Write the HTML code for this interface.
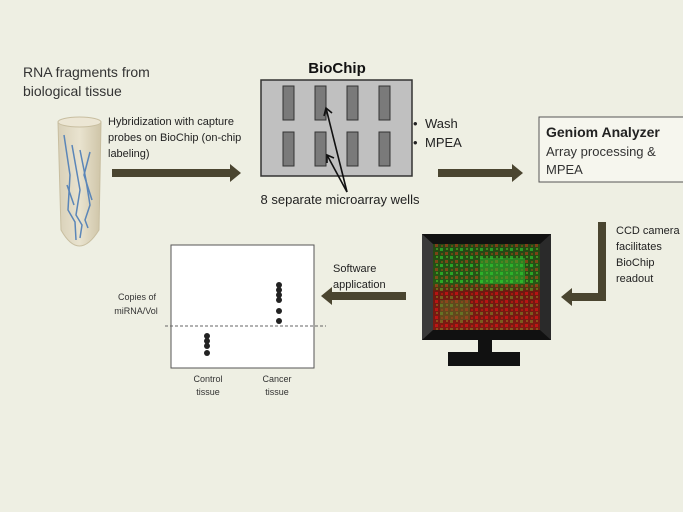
<!DOCTYPE html>
<html><head><meta charset="utf-8"><style>
html,body{margin:0;padding:0;background:#eeefe3;}
svg{display:block;font-family:"Liberation Sans",sans-serif;}
</style></head><body>
<svg width="683" height="512" viewBox="0 0 683 512" xmlns="http://www.w3.org/2000/svg">
<defs>
<linearGradient id="tube" x1="0" x2="1"><stop offset="0" stop-color="#d8d0b8"/><stop offset="0.5" stop-color="#e9e3cf"/><stop offset="1" stop-color="#cfc5a8"/></linearGradient>
<pattern id="px" width="10" height="8" patternUnits="userSpaceOnUse">
<rect width="10" height="8" fill="#2a2010"/><rect width="3" height="3" fill="#2fa02a"/><rect x="5" y="4" width="3" height="3" fill="#b01515"/><rect x="6" y="0" width="2" height="2" fill="#4a8a20"/><rect x="1" y="5" width="2" height="2" fill="#902010"/>
</pattern>
<linearGradient id="scr" x1="0" y1="0" x2="0" y2="1"><stop offset="0" stop-color="#1a8a1a" stop-opacity="0.35"/><stop offset="0.45" stop-color="#20c020" stop-opacity="0.35"/><stop offset="0.55" stop-color="#c01010" stop-opacity="0.45"/><stop offset="1" stop-color="#d01515" stop-opacity="0.5"/></linearGradient>
</defs>
<rect width="683" height="512" fill="#eeefe3"/>
<text x="23" y="77" font-size="14" fill="#333">RNA fragments from</text>
<text x="23" y="96" font-size="14" fill="#333">biological tissue</text>
<path d="M58,122 L101,122 L99,230 Q79,262 61,230 Z" fill="url(#tube)" stroke="#c8bea0"/>
<ellipse cx="79.5" cy="122" rx="21.5" ry="5" fill="#ece6d4" stroke="#c8bea0"/>
<g stroke="#5b86b8" stroke-width="1.5" fill="none">
<path d="M64,135 L70,175 L68,210 L75,222 L76,240"/>
<path d="M72,145 L80,190 L76,215 L82,225 L80,238"/>
<path d="M80,150 L86,180 L90,205 L85,220 L88,228"/>
<path d="M90,152 L84,175 L92,200"/>
<path d="M67,185 L74,205"/>
</g>
<g font-size="11" fill="#222">
<text x="108" y="125">Hybridization with capture</text>
<text x="108" y="141">probes on BioChip (on-chip</text>
<text x="108" y="157">labeling)</text>
</g>
<rect x="112" y="169" width="118" height="8" fill="#4a4530"/>
<polygon points="230,164 241,173 230,182" fill="#4a4530"/>
<text x="337" y="73" font-size="15" font-weight="bold" text-anchor="middle" fill="#111">BioChip</text>
<rect x="261" y="80" width="151" height="96" fill="#c0c0c0" stroke="#333" stroke-width="1.5"/>
<g fill="#7a7a7a" stroke="#333" stroke-width="1">
<rect x="283" y="86" width="11" height="34"/><rect x="315" y="86" width="11" height="34"/><rect x="347" y="86" width="11" height="34"/><rect x="379" y="86" width="11" height="34"/>
<rect x="283" y="132" width="11" height="34"/><rect x="315" y="132" width="11" height="34"/><rect x="347" y="132" width="11" height="34"/><rect x="379" y="132" width="11" height="34"/>
</g>
<g stroke="#111" stroke-width="1.6" fill="none">
<line x1="347" y1="192" x2="326" y2="108"/><line x1="347" y1="192" x2="327" y2="155"/>
<polyline points="324,116 326,108 332,113"/>
<polyline points="327,163 327,155 334,158"/>
</g>
<text x="340" y="204" font-size="13" text-anchor="middle" fill="#222">8 separate microarray wells</text>
<g font-size="13" fill="#222"><text x="413" y="128">•</text><text x="425" y="128">Wash</text><text x="413" y="147">•</text><text x="425" y="147">MPEA</text></g>
<rect x="438" y="169" width="74" height="8" fill="#4a4530"/>
<polygon points="512,164 523,173 512,182" fill="#4a4530"/>
<rect x="539" y="117" width="150" height="65" fill="#f6f6ee" stroke="#555" stroke-width="1"/>
<text x="546" y="137" font-size="14" font-weight="bold" fill="#222">Geniom Analyzer</text>
<text x="546" y="156" font-size="13" fill="#333">Array processing &amp;</text>
<text x="546" y="174" font-size="13" fill="#333">MPEA</text>
<rect x="598" y="222" width="8" height="79" fill="#4a4530"/>
<rect x="572" y="293" width="34" height="8" fill="#4a4530"/>
<polygon points="572,288 561,297 572,306" fill="#4a4530"/>
<g font-size="11" fill="#222"><text x="616" y="234">CCD camera</text><text x="616" y="250">facilitates</text><text x="616" y="266">BioChip</text><text x="616" y="282">readout</text></g>
<rect x="422" y="234" width="129" height="106" fill="#111"/>
<polygon points="422,234 433,244 433,330 422,340" fill="#3a3a3a"/>
<polygon points="551,234 540,244 540,330 551,340" fill="#2a2a2a"/>
<rect x="433" y="244" width="107" height="86" fill="url(#px)"/>
<rect x="433" y="244" width="107" height="86" fill="url(#scr)"/>
<rect x="480" y="258" width="45" height="26" fill="#30c030" opacity="0.45"/>
<rect x="440" y="300" width="30" height="20" fill="#40a030" opacity="0.35"/>
<rect x="478" y="340" width="14" height="13" fill="#111"/>
<rect x="448" y="352" width="72" height="14" fill="#111"/>
<text x="333" y="272" font-size="11" fill="#222">Software</text>
<text x="333" y="288" font-size="11" fill="#222">application</text>
<rect x="332" y="292" width="74" height="8" fill="#4a4530"/>
<polygon points="332,287 321,296 332,305" fill="#4a4530"/>
<rect x="171" y="245" width="143" height="123" fill="#fff" stroke="#555" stroke-width="1"/>
<line x1="165" y1="326" x2="326" y2="326" stroke="#666" stroke-dasharray="3,2"/>
<g fill="#222">
<circle cx="279" cy="285" r="3"/><circle cx="279" cy="290" r="3"/><circle cx="279" cy="295" r="3"/><circle cx="279" cy="300" r="3"/><circle cx="279" cy="311" r="3"/><circle cx="279" cy="321" r="3"/>
<circle cx="207" cy="336" r="3"/><circle cx="207" cy="341" r="3"/><circle cx="207" cy="346" r="3"/><circle cx="207" cy="353" r="3"/>
</g>
<g font-size="9" fill="#333" text-anchor="middle">
<text x="137" y="300">Copies of</text><text x="136" y="314">miRNA/Vol</text>
<text x="208" y="382">Control</text><text x="208" y="395">tissue</text>
<text x="277" y="382">Cancer</text><text x="277" y="395">tissue</text>
</g>
</svg>
</body></html>
